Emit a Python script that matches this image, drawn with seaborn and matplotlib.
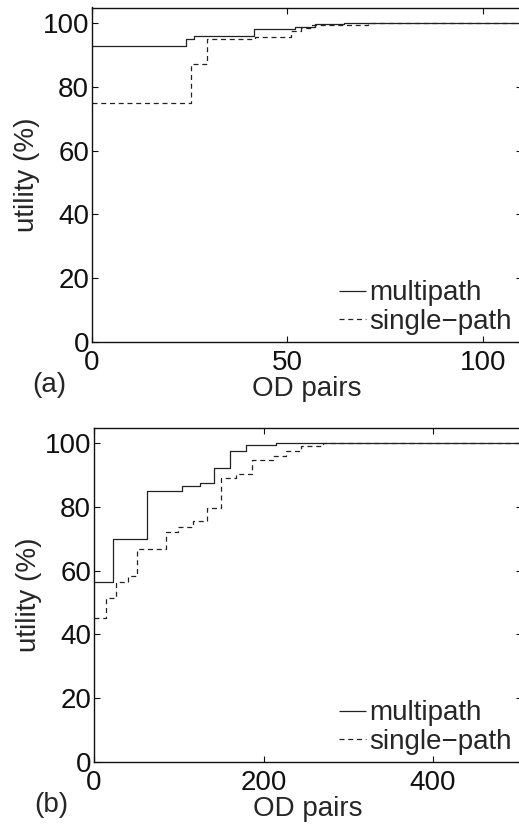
import numpy as np
import pandas as pd
import matplotlib
matplotlib.use("Agg")
import matplotlib.pyplot as plt
import seaborn as sns

sns.set_style("ticks")
plt.rcParams['font.family'] = ['Liberation Sans', 'DejaVu Sans']
plt.rcParams['axes.linewidth'] = 1.0

# panel (a): step breakpoints (OD pair index where level starts) and utility level
a_multi_x = [0, 24, 26, 41.5, 52, 57, 64.5, 110]
a_multi_y = [93.0, 95.2, 95.9, 98.2, 98.9, 99.7, 100, 100]
a_single_x = [0, 25.3, 29.5, 41.7, 51, 53.5, 56, 70.6, 110]
a_single_y = [75.0, 87.2, 95.2, 95.6, 97.5, 98.6, 99.4, 100, 100]

# panel (b)
b_multi_x = [0, 22, 62.5, 104, 124.5, 142, 160.7, 179.6, 215, 505]
b_multi_y = [56.6, 70.0, 85.1, 86.7, 87.5, 92.3, 97.5, 99.6, 100, 100]
b_single_x = [0, 14.5, 26, 40, 50.7, 85, 99.5, 116.6, 133, 150, 168, 187, 211, 227, 244.5, 270, 505]
b_single_y = [45.1, 51.4, 56.6, 58.2, 66.9, 72.1, 73.8, 75.5, 79.7, 89.1, 90.5, 94.7, 95.9, 97.5, 99.3, 100, 100]

series_names = ["multipath", "single\u2212path"]
panel_labels = ["(a)", "(b)"]

fig = plt.figure(figsize=(5.19, 8.25), dpi=100)
ax_a = fig.add_axes([92/519, 483.3/825, 429.8/519, 334.2/825])
ax_b = fig.add_axes([94/519, 63.3/825, 428/519, 334.2/825])

panels = [
    (ax_a, a_multi_x, a_multi_y, a_single_x, a_single_y, 110, [0, 50, 100]),
    (ax_b, b_multi_x, b_multi_y, b_single_x, b_single_y, 505, [0, 200, 400]),
]

for i, (ax, mx, my, sx, sy, xmax, xt) in enumerate(panels):
    df = pd.concat([
        pd.DataFrame({"x": mx, "y": my, "s": series_names[0]}),
        pd.DataFrame({"x": sx, "y": sy, "s": series_names[1]}),
    ])
    sns.lineplot(data=df, x="x", y="y", hue="s", style="s",
                 palette=["#222222", "#222222"],
                 dashes=[(1, 0), (4, 3)], drawstyle="steps-post",
                 linewidth=0.9, ax=ax, legend=True)
    ax.set_xlim(0, xmax)
    ax.set_ylim(0, 105)
    ax.set_xticks(xt)
    ax.set_yticks([0, 20, 40, 60, 80, 100])
    ax.tick_params(direction="in", length=4, width=0.8, labelsize=20,
                   top=True, right=True, pad=2, colors="#111111")
    ax.tick_params(axis="x", pad=6)
    ax.set_xlabel("OD pairs", fontsize=20, labelpad=0)
    ax.set_ylabel("utility (%)", fontsize=20, labelpad=2)
    for sp in ax.spines.values():
        sp.set_color("#111111")
    ax.legend(loc="lower right", bbox_to_anchor=(1.015, -0.03), frameon=False,
              fontsize=20, handlelength=1.0, handletextpad=0.1,
              labelspacing=0.1, borderpad=0.1)
    ax.text(-0.1, -0.13, panel_labels[i], transform=ax.transAxes,
            fontsize=20, ha="center", va="center")

fig.savefig("out.png", dpi=100)
